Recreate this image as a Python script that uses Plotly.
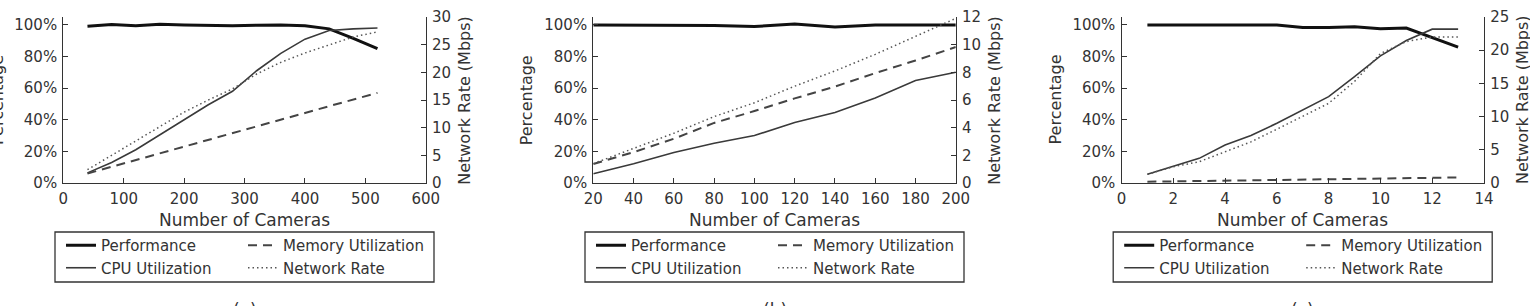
import plotly.graph_objects as go

# ---------------- data ----------------
cams_a = [40, 80, 120, 160, 200, 240, 280, 320, 360, 400, 440, 480, 520]
perf_a = [99.2, 100.3, 99.5, 100.4, 99.9, 99.6, 99.5, 99.8, 100.0, 99.4, 97.5, 91.5, 85.0]
cpu_a = [6.4, 13.0, 21.0, 30.5, 40.5, 49.5, 58.0, 71.0, 82.0, 91.0, 96.5, 97.5, 98.0]
mem_a = [6.0, 10.2, 14.5, 18.8, 23.0, 27.3, 31.5, 35.8, 40.0, 44.3, 48.6, 52.8, 57.0]
net_a = [2.4, 5.0, 7.6, 10.2, 12.8, 15.0, 17.0, 19.7, 21.8, 23.5, 25.0, 26.4, 27.3]

cams_b = [20, 40, 60, 80, 100, 120, 140, 160, 180, 200]
perf_b = [100, 100, 100, 99.6, 99.0, 100.5, 98.6, 100, 100, 100]
cpu_b = [5.9, 12.2, 19.3, 25.2, 30.0, 38.3, 44.6, 53.7, 64.8, 70.0]
mem_b = [12.0, 19.5, 28.0, 38.0, 45.5, 53.5, 61.0, 69.5, 77.5, 86.0]
net_b = [1.4, 2.5, 3.6, 4.8, 5.8, 7.0, 8.1, 9.3, 10.6, 11.9]

cams_c = [1, 2, 3, 4, 5, 6, 7, 8, 9, 10, 11, 12, 13]
perf_c = [100, 100, 100, 100, 100, 100, 98.3, 98.3, 98.8, 97.5, 98.0, 92.0, 86.0]
cpu_c = [5.5, 10.8, 15.6, 24.0, 30.0, 37.8, 46.2, 54.6, 67.3, 80.4, 90.1, 97.3, 97.3]
mem_c = [0.8, 1.0, 1.2, 1.4, 1.6, 1.8, 2.0, 2.3, 2.5, 2.7, 3.0, 3.2, 3.5]
net_c = [1.3, 2.45, 3.2, 4.7, 6.2, 8.1, 10.0, 12.0, 15.3, 19.5, 21.3, 22.0, 22.0]

x_ranges = [[0, 600], [20, 200], [0, 14]]
x_dticks = [100, 20, 2]
net_ranges = [[0, 30], [0, 12], [0, 25]]
net_dticks = [5, 2, 5]
pct_tickvals = [0, 20, 40, 60, 80, 100]
pct_ticktext = ["0%", "20%", "40%", "60%", "80%", "100%"]
captions = ["(a)", "(b)", "(c)"]
series_names = ["Performance", "CPU Utilization", "Memory Utilization", "Network Rate"]

# ---------------- layout helpers ----------------
W, H = 1530, 306
FONT = "DejaVu Sans"
TXT = "#333333"
plot_left = [63.3, 593.3, 1121.5]
plot_w = 362.5
plot_top, plot_bot = 17.0, 183.0


def fx(px):
    return px / W


def fy(py):
    return (H - py) / H


fig = go.Figure()

panels = [
    (cams_a, perf_a, cpu_a, mem_a, net_a),
    (cams_b, perf_b, cpu_b, mem_b, net_b),
    (cams_c, perf_c, cpu_c, mem_c, net_c),
]

styles = [
    dict(color="#111111", width=3.0, dash="solid"),
    dict(color="#3a3a3a", width=1.6, dash="solid"),
    dict(color="#444444", width=2.0, dash="9px,6px"),
    dict(color="#555555", width=1.5, dash="1.5px,3px"),
]

annotations = []
shapes = []
layout_axes = {}

for i, (cams, perf, cpu, mem, net) in enumerate(panels):
    xa = "x" if i == 0 else f"x{i+1}"
    yl = f"y{2*i+1}" if i > 0 else "y"
    yr = f"y{2*i+2}"
    leg1 = "legend" if i == 0 else f"legend{2*i+1}"
    leg2 = f"legend{2*i+2}"
    vals = [perf, cpu, mem, net]
    yaxes = [yl, yl, yl, yr]
    legs = [leg1, leg1, leg2, leg2]
    for k in range(4):
        fig.add_trace(go.Scatter(
            x=cams, y=vals[k], mode="lines", name=series_names[k],
            line=styles[k], xaxis=xa, yaxis=yaxes[k], legend=legs[k],
            showlegend=True,
        ))

    L = plot_left[i]
    R = L + plot_w
    dom_x = [fx(L), fx(R)]
    dom_y = [fy(plot_bot), fy(plot_top)]
    xkey = "xaxis" if i == 0 else f"xaxis{i+1}"
    ylkey = "yaxis" if i == 0 else f"yaxis{2*i+1}"
    yrkey = f"yaxis{2*i+2}"
    common = dict(
        showgrid=False, zeroline=False, showline=True, linecolor="#333333", linewidth=1.3,
        ticks="inside", ticklen=5, tickwidth=1.2, tickcolor="#333333",
        tickfont=dict(family=FONT, size=15, color=TXT), automargin=False,
    )
    layout_axes[xkey] = dict(
        domain=dom_x, range=x_ranges[i], dtick=x_dticks[i], tick0=0,
        anchor=yl, ticklabelstandoff=2, **common,
    )
    layout_axes[ylkey] = dict(
        domain=dom_y, range=[0, 105], tickvals=pct_tickvals, ticktext=pct_ticktext,
        anchor=xa, side="left", ticklabelstandoff=2, **common,
    )
    layout_axes[yrkey] = dict(
        domain=dom_y, range=net_ranges[i], dtick=net_dticks[i], tick0=0,
        anchor=xa, overlaying=yl, side="right", ticklabelstandoff=2, **common,
    )

    cx = (L + R) / 2
    # axis titles
    annotations.append(dict(text="Number of Cameras", x=fx(cx), y=fy(220), xref="paper", yref="paper",
                            showarrow=False, xanchor="center", yanchor="middle",
                            font=dict(family=FONT, size=17, color=TXT)))
    annotations.append(dict(text="Percentage", x=fx(L - 66 if i else -2), y=fy(100), xref="paper", yref="paper",
                            showarrow=False, xanchor="center", yanchor="middle", textangle=-90,
                            font=dict(family=FONT, size=16, color=TXT)))
    annotations.append(dict(text="Network Rate (Mbps)", x=fx(R + 39), y=fy(100), xref="paper", yref="paper",
                            showarrow=False, xanchor="center", yanchor="middle", textangle=-90,
                            font=dict(family=FONT, size=16, color=TXT)))
    annotations.append(dict(text=captions[i], x=fx(cx), y=fy(310), xref="paper", yref="paper",
                            showarrow=False, xanchor="center", yanchor="middle",
                            font=dict(family=FONT, size=17, color=TXT)))
    # legend frame
    off = L - 63.3
    shapes.append(dict(type="rect", xref="paper", yref="paper",
                       x0=fx(55 + off), x1=fx(434 + off), y0=fy(282), y1=fy(232),
                       line=dict(color="#333333", width=1.3), fillcolor="rgba(0,0,0,0)"))
    legstyle = dict(orientation="v", xanchor="left", yanchor="top", bgcolor="rgba(0,0,0,0)",
                    borderwidth=0, font=dict(family=FONT, size=15, color=TXT),
                    itemwidth=30, tracegroupgap=0, xref="paper", yref="paper")
    layout_axes[leg1] = dict(x=fx(61 + off), y=fy(229), **legstyle)
    layout_axes[leg2] = dict(x=fx(243 + off), y=fy(229), **legstyle)

fig.update_layout(
    width=W, height=H, margin=dict(l=0, r=0, t=0, b=0, autoexpand=False),
    paper_bgcolor="white", plot_bgcolor="white",
    font=dict(family=FONT, size=15, color=TXT),
    annotations=annotations, shapes=shapes,
    **layout_axes,
)

fig.write_html("out.html")
